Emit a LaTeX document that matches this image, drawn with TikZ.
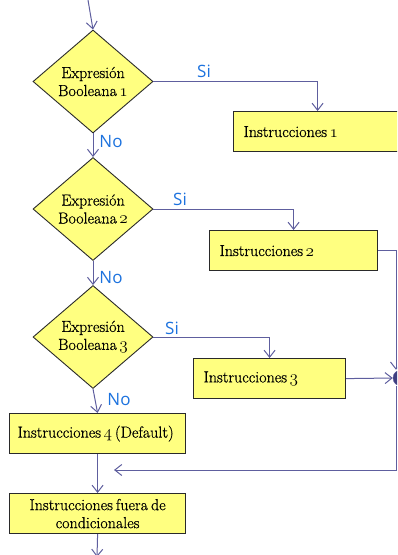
\documentclass[tikz,border=0pt]{standalone}
\usepackage{fontspec}
\setmainfont{Latin Modern Roman}[FakeBold=0.6]
\newfontfamily\lblfont{Open Sans}
\usetikzlibrary{shapes.geometric,arrows.meta}
\definecolor{boxfill}{HTML}{FFFF80}
\definecolor{boxline}{HTML}{2A2A2A}
\definecolor{conn}{HTML}{5E5E9E}
\definecolor{lbl}{HTML}{1C72DE}
\definecolor{joinfill}{HTML}{3F3F80}
\newcommand{\osn}[1]{\hspace{2.5pt}$\mathnormal{#1}$}
\begin{document}
\begin{tikzpicture}[x=1pt,y=-1pt,
  txt/.style={font=\fontsize{16}{18}\selectfont},
  decision/.style={diamond,draw=boxline,fill=boxfill,line width=0.9pt,minimum width=120pt,minimum height=103pt,inner sep=0pt,align=center,txt},
  instr/.style={rectangle,draw=boxline,fill=boxfill,line width=1.2pt,minimum height=40pt,inner ysep=0pt,inner xsep=10pt,align=left,txt},
  flow/.style={draw=conn,line width=1pt,-{Straight Barb[length=7pt,width=11pt,line width=1pt]}},
  lab/.style={text=lbl,font=\lblfont\fontsize{17}{17}\selectfont,inner sep=0pt}]
\clip (0,0) rectangle (397,555);
\useasboundingbox (0,0) rectangle (397,555);

\node[decision] (d1) at (93,81.5) {Expresión\\Booleana\osn{1}};
\node[decision] (d2) at (93,209) {Expresión\\Booleana\osn{2}};
\node[decision] (d3) at (93,337) {Expresión\\Booleana\osn{3}};

\node[instr,text width=148pt,anchor=north west] (b1) at (233,111) {Instrucciones\osn{1}};
\node[instr,text width=148pt,anchor=north west] (b2) at (209,230) {Instrucciones\osn{2}};
\node[instr,text width=132pt,anchor=north west] (b3) at (193,358) {Instrucciones\osn{3}};
\node[instr,text width=166pt,inner xsep=5pt,anchor=north west] (b4) at (9,413) {\hspace{3pt}Instrucciones\osn{4}\hspace{3pt}(Default)};
\node[instr,text width=166pt,inner xsep=5pt,anchor=north west,align=center] (b5) at (9,493) {Instrucciones\hspace{3pt}fuera\hspace{3pt}de\\condicionales};

\node[circle,fill=joinfill,draw=conn,minimum size=16pt,inner sep=0pt] (jn) at (401,378) {};

\coordinate (s0) at (88,0);
\coordinate (k) at (396,378);
\coordinate (k2) at (396,470);
\coordinate (r) at (114,470);
\coordinate (e) at (97,557);

\draw[flow] (s0) -- (d1.north);
\draw[flow] (d1.south) -- (d2.north);
\draw[flow] (d2.south) -- (d3.north);
\draw[flow] (d3.south) -- (b4.north);
\draw[flow] (b4.south) -- (b5.north);
\draw[flow] (b5.south) -- (e);

\draw[flow] (d1.east) -| (b1.north);
\draw[flow] (d2.east) -| (b2.north);
\draw[flow] (d3.east) -| (b3.north);

\draw[flow] (b2.east) -- (b2.east -| k) -- (k |- jn.north);
\draw[flow] (b3.east) -- (jn.west);
\draw[flow] (k |- jn.south) -- (k2) -- (r);

\node[lab] (si1) at (204,71) {Si};
\node[lab] (si2) at (180,199) {Si};
\node[lab] (si3) at (172,328) {Si};
\node[lab] (no1) at (111,142) {No};
\node[lab] (no2) at (111,278) {No};
\node[lab] (no3) at (119,400) {No};
\end{tikzpicture}
\end{document}
